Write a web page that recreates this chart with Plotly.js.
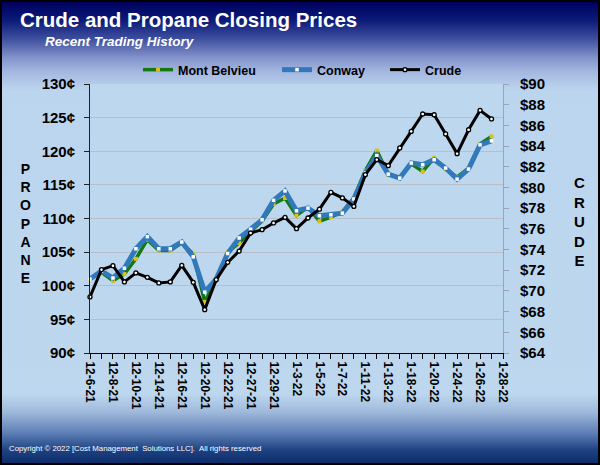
<!DOCTYPE html>
<html>
<head>
<meta charset="utf-8">
<script src="https://cdn.plot.ly/plotly-3.0.1.min.js"></script>
<style>
  html, body { margin:0; padding:0; background:#000; }
  #bg { position:absolute; left:0; top:0; width:600px; height:465px; box-sizing:border-box;
        border:2px solid #000;
        background: linear-gradient(to bottom,
          #00005e 0px, #0a1a78 18px, #3c4c9c 36px, #8494cc 56px, #a4b8e0 70px, #bcd5ee 88px,
          #bdd7ee 392px, #9fb9dc 410px, #5a7cb4 432px, #1e4282 448px, #0c2c68 462px); }
  #chart { position:absolute; left:0; top:0; width:600px; height:465px; }
</style>
</head>
<body>
<div id="bg"></div>
<div id="chart"></div>
<script>
const categories = ["12-6-21","12-7-21","12-8-21","12-9-21","12-10-21","12-13-21","12-14-21","12-15-21","12-16-21","12-17-21",
  "12-20-21","12-21-21","12-22-21","12-23-21","12-27-21","12-28-21","12-29-21","12-30-21","1-3-22","1-4-22",
  "1-5-22","1-6-22","1-7-22","1-10-22","1-11-22","1-12-22","1-13-22","1-14-22","1-18-22","1-19-22",
  "1-20-22","1-21-22","1-24-22","1-25-22","1-26-22","1-27-22","1-28-22"];
const tickLabels = ["12-6-21","","12-8-21","","12-10-21","","12-14-21","","12-16-21","",
  "12-20-21","","12-22-21","","12-27-21","","12-29-21","","1-3-22","",
  "1-5-22","","1-7-22","","1-11-22","","1-13-22","","1-18-22","",
  "1-20-22","","1-24-22","","1-26-22","","1-28-22"];
const montBelvieu = [101.0,102.0,100.75,101.75,104.0,106.85,105.25,105.25,106.4,104.7,
  97.6,100.9,105.0,106.35,108.1,109.6,112.15,113.05,110.45,111.7,
  109.6,110.2,111.0,113.05,117.15,120.1,116.5,116.15,118.15,117.0,
  119.0,117.35,116.15,117.5,121.1,122.2,null];
const conway = [101.0,102.2,101.15,102.6,105.5,107.3,105.5,105.5,106.5,104.3,
  99.05,101.0,104.8,107.1,108.4,109.8,112.7,114.1,111.15,111.55,
  110.4,110.55,110.8,112.9,116.75,119.35,116.6,116.0,118.25,118.0,
  118.75,117.5,115.85,117.35,120.95,121.55,null];
const crude = [69.42,72.06,72.44,70.87,71.74,71.31,70.77,70.87,72.47,70.83,
  68.19,71.09,72.76,73.85,75.60,75.92,76.57,77.11,76.02,77.05,
  77.90,79.53,78.99,78.17,81.24,82.69,82.11,83.82,85.42,87.10,
  87.03,85.17,83.27,85.58,87.45,86.62,null];

const F = "Arial, 'Liberation Sans', sans-serif";

const traces = [
  {x:categories, y:montBelvieu, name:"Mont Belvieu", type:"scatter", mode:"lines+markers",
   line:{color:"#12780f", width:3.5}, marker:{symbol:"square", size:4, color:"#d8c21a"},
   cliponaxis:false, legend:"legend"},
  {x:categories, y:conway, name:"Conway", type:"scatter", mode:"lines+markers",
   line:{color:"#3179bb", width:5}, marker:{symbol:"square", size:3.5, color:"#ffffff"},
   cliponaxis:false, legend:"legend2"},
  {x:categories, y:crude, name:"Crude", type:"scatter", mode:"lines+markers", yaxis:"y2",
   line:{color:"#000000", width:3}, marker:{symbol:"circle", size:4, color:"#ffffff", line:{color:"#000", width:1.3}},
   cliponaxis:false, legend:"legend3"}
];

const legBase = {orientation:"h", yanchor:"middle", xanchor:"left", y:1.052, bgcolor:"rgba(0,0,0,0)",
  font:{family:F, size:12.5, color:"#000", weight:"bold"}, itemwidth:30};

const layout = {
  width:600, height:465,
  margin:{l:90, r:97, t:84, b:112},
  paper_bgcolor:"rgba(0,0,0,0)", plot_bgcolor:"#bdd7ee",
  showlegend:true,
  title:{text:"<b>Crude and Propane Closing Prices</b>", x:20/600, xanchor:"left", xref:"container",
         y:1-13/465, yanchor:"top", yref:"container", font:{family:F, size:20.5, color:"#ffffff"}},
  legend:Object.assign({}, legBase, {x:(138-90)/413}),
  legend2:Object.assign({}, legBase, {x:(277-90)/413}),
  legend3:Object.assign({}, legBase, {x:(385-90)/413}),
  xaxis:{type:"category", range:[0,36], tickmode:"array", tickvals:categories, ticktext:tickLabels,
         tickangle:90, ticks:"outside", ticklen:5, tickcolor:"#000", showline:true, linecolor:"#000", linewidth:1,
         showgrid:false, zeroline:false, tickfont:{family:F, size:12, color:"#000", weight:"bold"}},
  yaxis:{range:[90,130], dtick:5, ticksuffix:"¢", ticks:"outside", ticklen:5, tickcolor:"#222",
         showline:true, linecolor:"#222", linewidth:1, gridcolor:"#b9bfc9", gridwidth:1, zeroline:false,
         tickfont:{family:F, size:15, color:"#000", weight:"bold"}, ticklabelstandoff:6},
  yaxis2:{range:[64,90], dtick:2, tickprefix:"$", overlaying:"y", side:"right", ticks:"outside", ticklen:5,
         tickcolor:"#9aa4b4", showline:true, linecolor:"#9aa4b4", linewidth:1, showgrid:false, zeroline:false,
         tickfont:{family:F, size:15, color:"#000", weight:"bold"}, ticklabelstandoff:8},
  annotations:[
    {text:"<b><i>Recent Trading History</i></b>", xref:"paper", yref:"paper", x:(43-90)/413, y:1+(84-42)/269,
     xanchor:"left", yanchor:"middle", showarrow:false, font:{family:F, size:13.5, color:"#ffffff"}},
    {text:"<b>P<br>R<br>O<br>P<br>A<br>N<br>E</b>", xref:"paper", yref:"paper", x:(25-90)/413, y:1-(223-84)/269,
     xanchor:"center", yanchor:"middle", showarrow:false, font:{family:F, size:14, color:"#000"}},
    {text:"<b>C<br>R<br>U<br>D<br>E</b>", xref:"paper", yref:"paper", x:(579-90)/413, y:1-(221-84)/269,
     xanchor:"center", yanchor:"middle", showarrow:false, font:{family:F, size:15, color:"#000"}},
    {text:"Copyright © 2022 [Cost Management  Solutions LLC].  All rights reserved", xref:"paper", yref:"paper",
     x:(7-90)/413, y:1-(448-84)/269, xanchor:"left", yanchor:"middle", showarrow:false,
     font:{family:F, size:7.8, color:"#ffffff"}}
  ]
};

Plotly.newPlot("chart", traces, layout, {displayModeBar:false, staticPlot:true});
</script>
</body>
</html>
